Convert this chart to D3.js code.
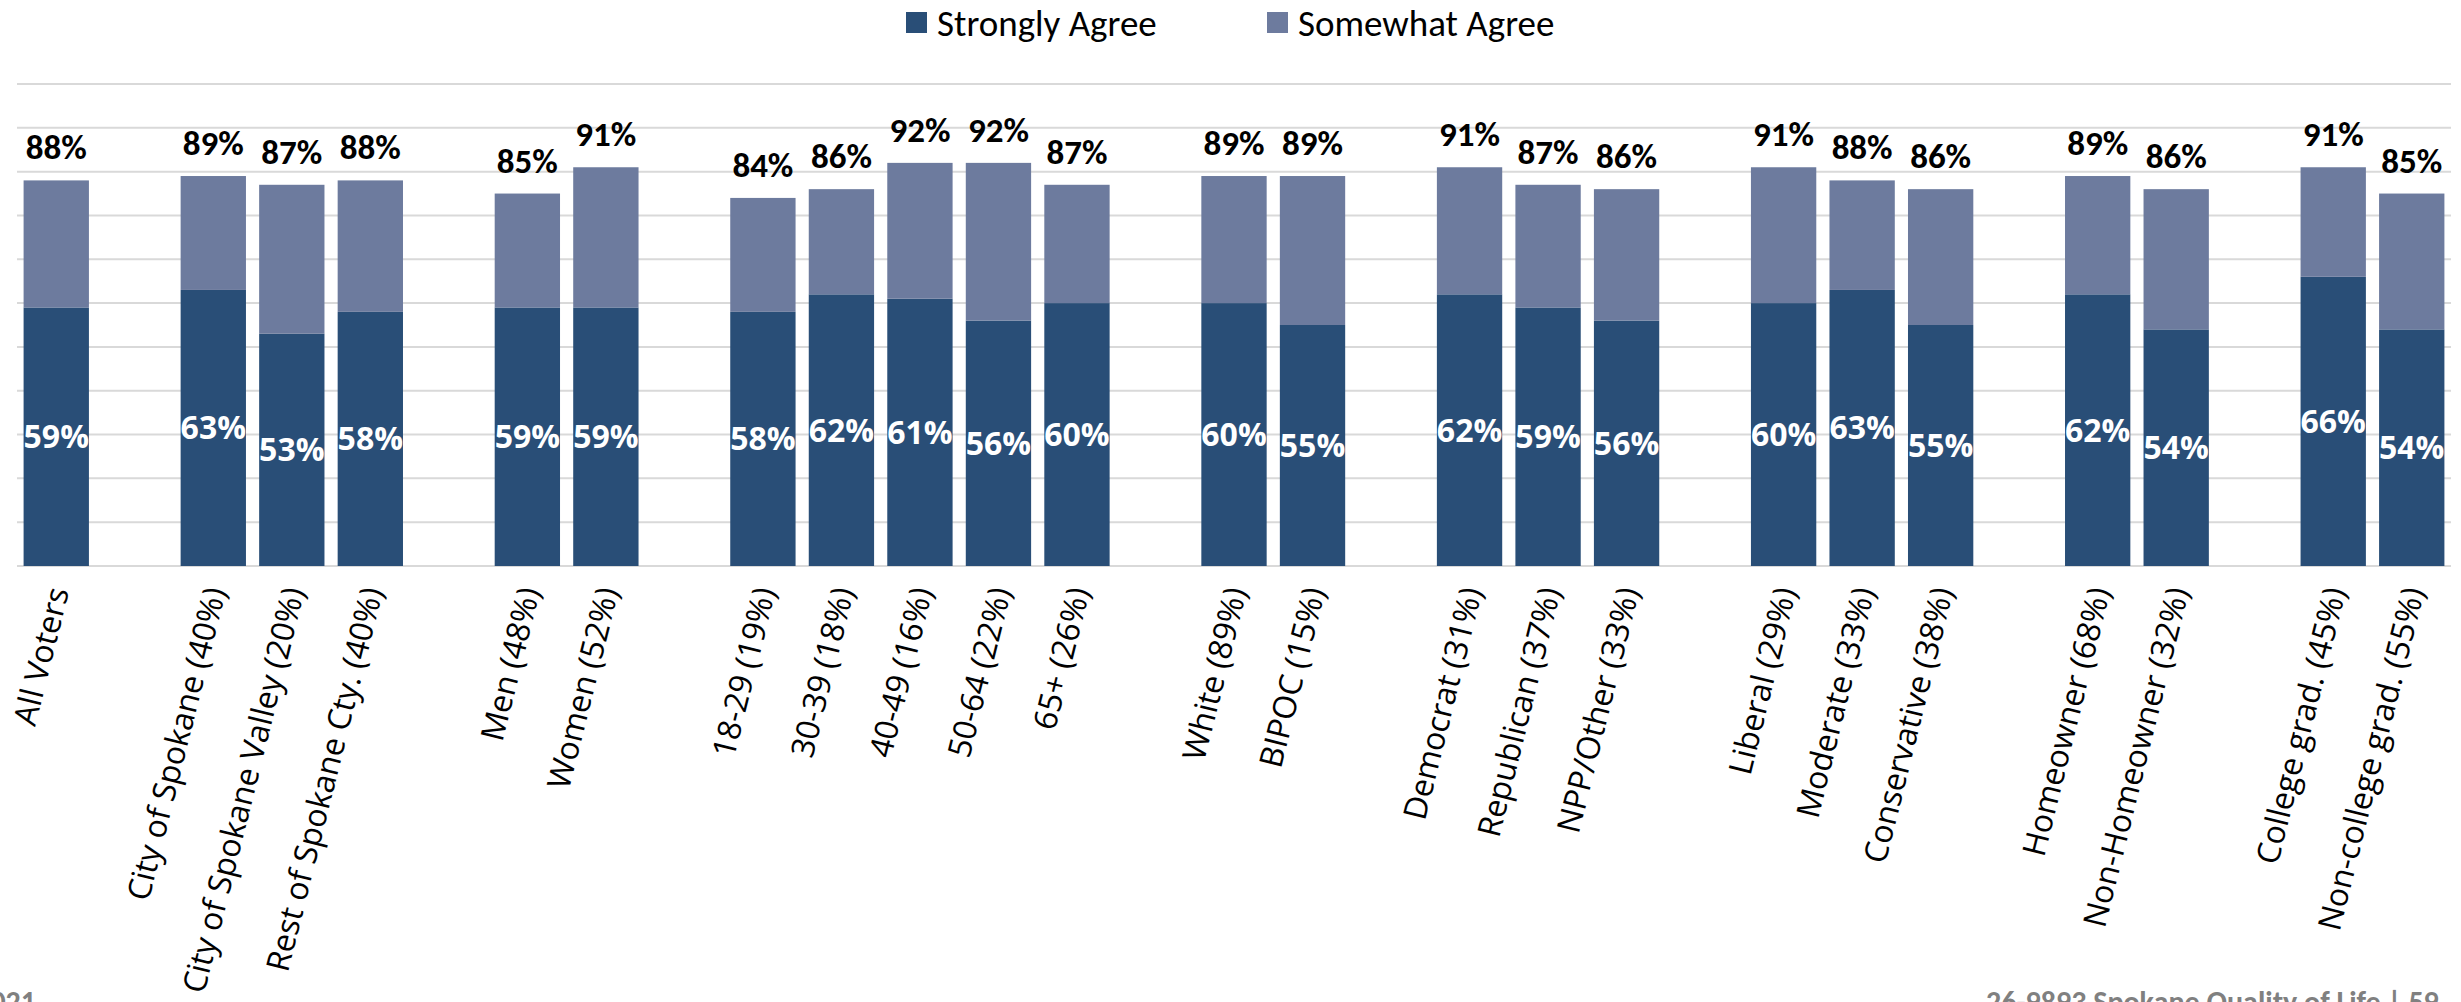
<!DOCTYPE html>
<html>
<head>
<meta charset="utf-8">
<script src="https://cdn.jsdelivr.net/npm/d3@7"></script>
<style>
  html, body { margin: 0; padding: 0; background: #fff; overflow: hidden; }
  svg { display: block; }
</style>
</head>
<body>
<div id="chart"></div>
<script>
// groups of categories; a blank slot sits between each group
const groups = [
  ['All Voters'],
  ['City of Spokane (40%)', 'City of Spokane Valley (20%)', 'Rest of Spokane Cty. (40%)'],
  ['Men (48%)', 'Women (52%)'],
  ['18-29 (19%)', '30-39 (18%)', '40-49 (16%)', '50-64 (22%)', '65+ (26%)'],
  ['White (89%)', 'BIPOC (15%)'],
  ['Democrat (31%)', 'Republican (37%)', 'NPP/Other (33%)'],
  ['Liberal (29%)', 'Moderate (33%)', 'Conservative (38%)'],
  ['Homeowner (68%)', 'Non-Homeowner (32%)'],
  ['College grad. (45%)', 'Non-college grad. (55%)']
];
const stronglyAgree = [59, 63, 53, 58, 59, 59, 58, 62, 61, 56, 60, 60, 55, 62, 59, 56, 60, 63, 55, 62, 54, 66, 54];
const totalAgree    = [88, 89, 87, 88, 85, 91, 84, 86, 92, 92, 87, 89, 89, 91, 87, 86, 91, 88, 86, 89, 86, 91, 85];
const seriesNames = ['Strongly Agree', 'Somewhat Agree'];
const yTicks = [0, 10, 20, 30, 40, 50, 60, 70, 80, 90, 100, 110];

const W = 2461, H = 1002;
const colors = { strong: '#294E77', some: '#6D7B9E', grid: '#d9d9d9' };
const labelFont = "Carlito, Calibri, Lato, 'Open Sans', sans-serif";
const axisFont = "'Segoe UI', 'Open Sans', sans-serif";

const categories = groups.flat();
const data = categories.map((c, i) => ({
  cat: c, strong: stronglyAgree[i], some: totalAgree[i] - stronglyAgree[i], total: totalAgree[i]
}));

// domain with spacer slots between groups
const domain = [];
groups.forEach((g, gi) => {
  if (gi > 0) domain.push('__gap' + gi);
  g.forEach(c => domain.push(c));
});

const svg = d3.select('#chart').append('svg').attr('width', W).attr('height', H);

const x = d3.scaleBand().domain(domain).range([17, 2451]).paddingInner(0.168).paddingOuter(0.084);
const y = d3.scaleLinear().domain([0, 110]).range([566, 84]);

// gridlines
svg.append('g').selectAll('line').data(yTicks).join('line')
  .attr('x1', 17).attr('x2', 2451)
  .attr('y1', d => y(d)).attr('y2', d => y(d))
  .attr('stroke', colors.grid).attr('stroke-width', 2);

// stacked bars
const stack = d3.stack().keys(['strong', 'some'])(data);
const fills = [colors.strong, colors.some];
svg.append('g').selectAll('g').data(stack).join('g')
  .attr('fill', (d, i) => fills[i])
  .selectAll('rect').data(d => d).join('rect')
  .attr('x', d => x(d.data.cat))
  .attr('width', x.bandwidth())
  .attr('y', d => y(d[1]))
  .attr('height', d => y(d[0]) - y(d[1]));

// white labels inside Strongly Agree segment
svg.append('g').selectAll('text').data(data).join('text')
  .attr('x', d => x(d.cat) + x.bandwidth() / 2)
  .attr('y', d => (y(0) + y(d.strong)) / 2)
  .attr('dy', '0.36em')
  .attr('text-anchor', 'middle')
  .attr('font-family', "'Open Sans', sans-serif")
  .attr('font-weight', 700).attr('font-size', '32px')
  .attr('fill', '#fff')
  .text(d => d.strong + '%');

// total labels above bars
svg.append('g').selectAll('text').data(data).join('text')
  .attr('x', d => x(d.cat) + x.bandwidth() / 2)
  .attr('y', d => y(d.total) - 21)
  .attr('text-anchor', 'middle')
  .attr('font-family', labelFont)
  .attr('font-weight', 700).attr('font-size', '35px')
  .attr('fill', '#000')
  .text(d => d.total + '%');

// rotated category labels
svg.append('g').selectAll('text').data(categories).join('text')
  .attr('transform', d => `translate(${x(d) + x.bandwidth() / 2 + 2},588) rotate(-76)`)
  .attr('text-anchor', 'end')
  .attr('dy', '0.35em')
  .attr('font-family', axisFont)
  .attr('font-size', '32px')
  .attr('fill', '#000')
  .text(d => d);

// legend
const legend = [
  { name: seriesNames[0], color: colors.strong, x: 906 },
  { name: seriesNames[1], color: colors.some, x: 1267 }
];
const lg = svg.append('g').selectAll('g').data(legend).join('g')
  .attr('transform', d => `translate(${d.x},12)`);
lg.append('rect').attr('width', 21).attr('height', 21).attr('fill', d => d.color);
lg.append('text').attr('x', 31).attr('y', 10.5).attr('dy', '0.36em')
  .attr('font-family', labelFont).attr('font-size', '37px').attr('fill', '#000')
  .text(d => d.name);

// footer text (cut off by page edge)
svg.append('text').attr('x', 36).attr('y', 1012).attr('text-anchor', 'end')
  .attr('font-family', labelFont).attr('font-weight', 700).attr('font-size', '30px')
  .attr('fill', '#808080').text('2021');
svg.append('text').attr('x', 1986).attr('y', 1012)
  .attr('font-family', labelFont).attr('font-weight', 700).attr('font-size', '30px')
  .attr('fill', '#808080').text('26-9893 Spokane Quality of Life | 59');
</script>
</body>
</html>
